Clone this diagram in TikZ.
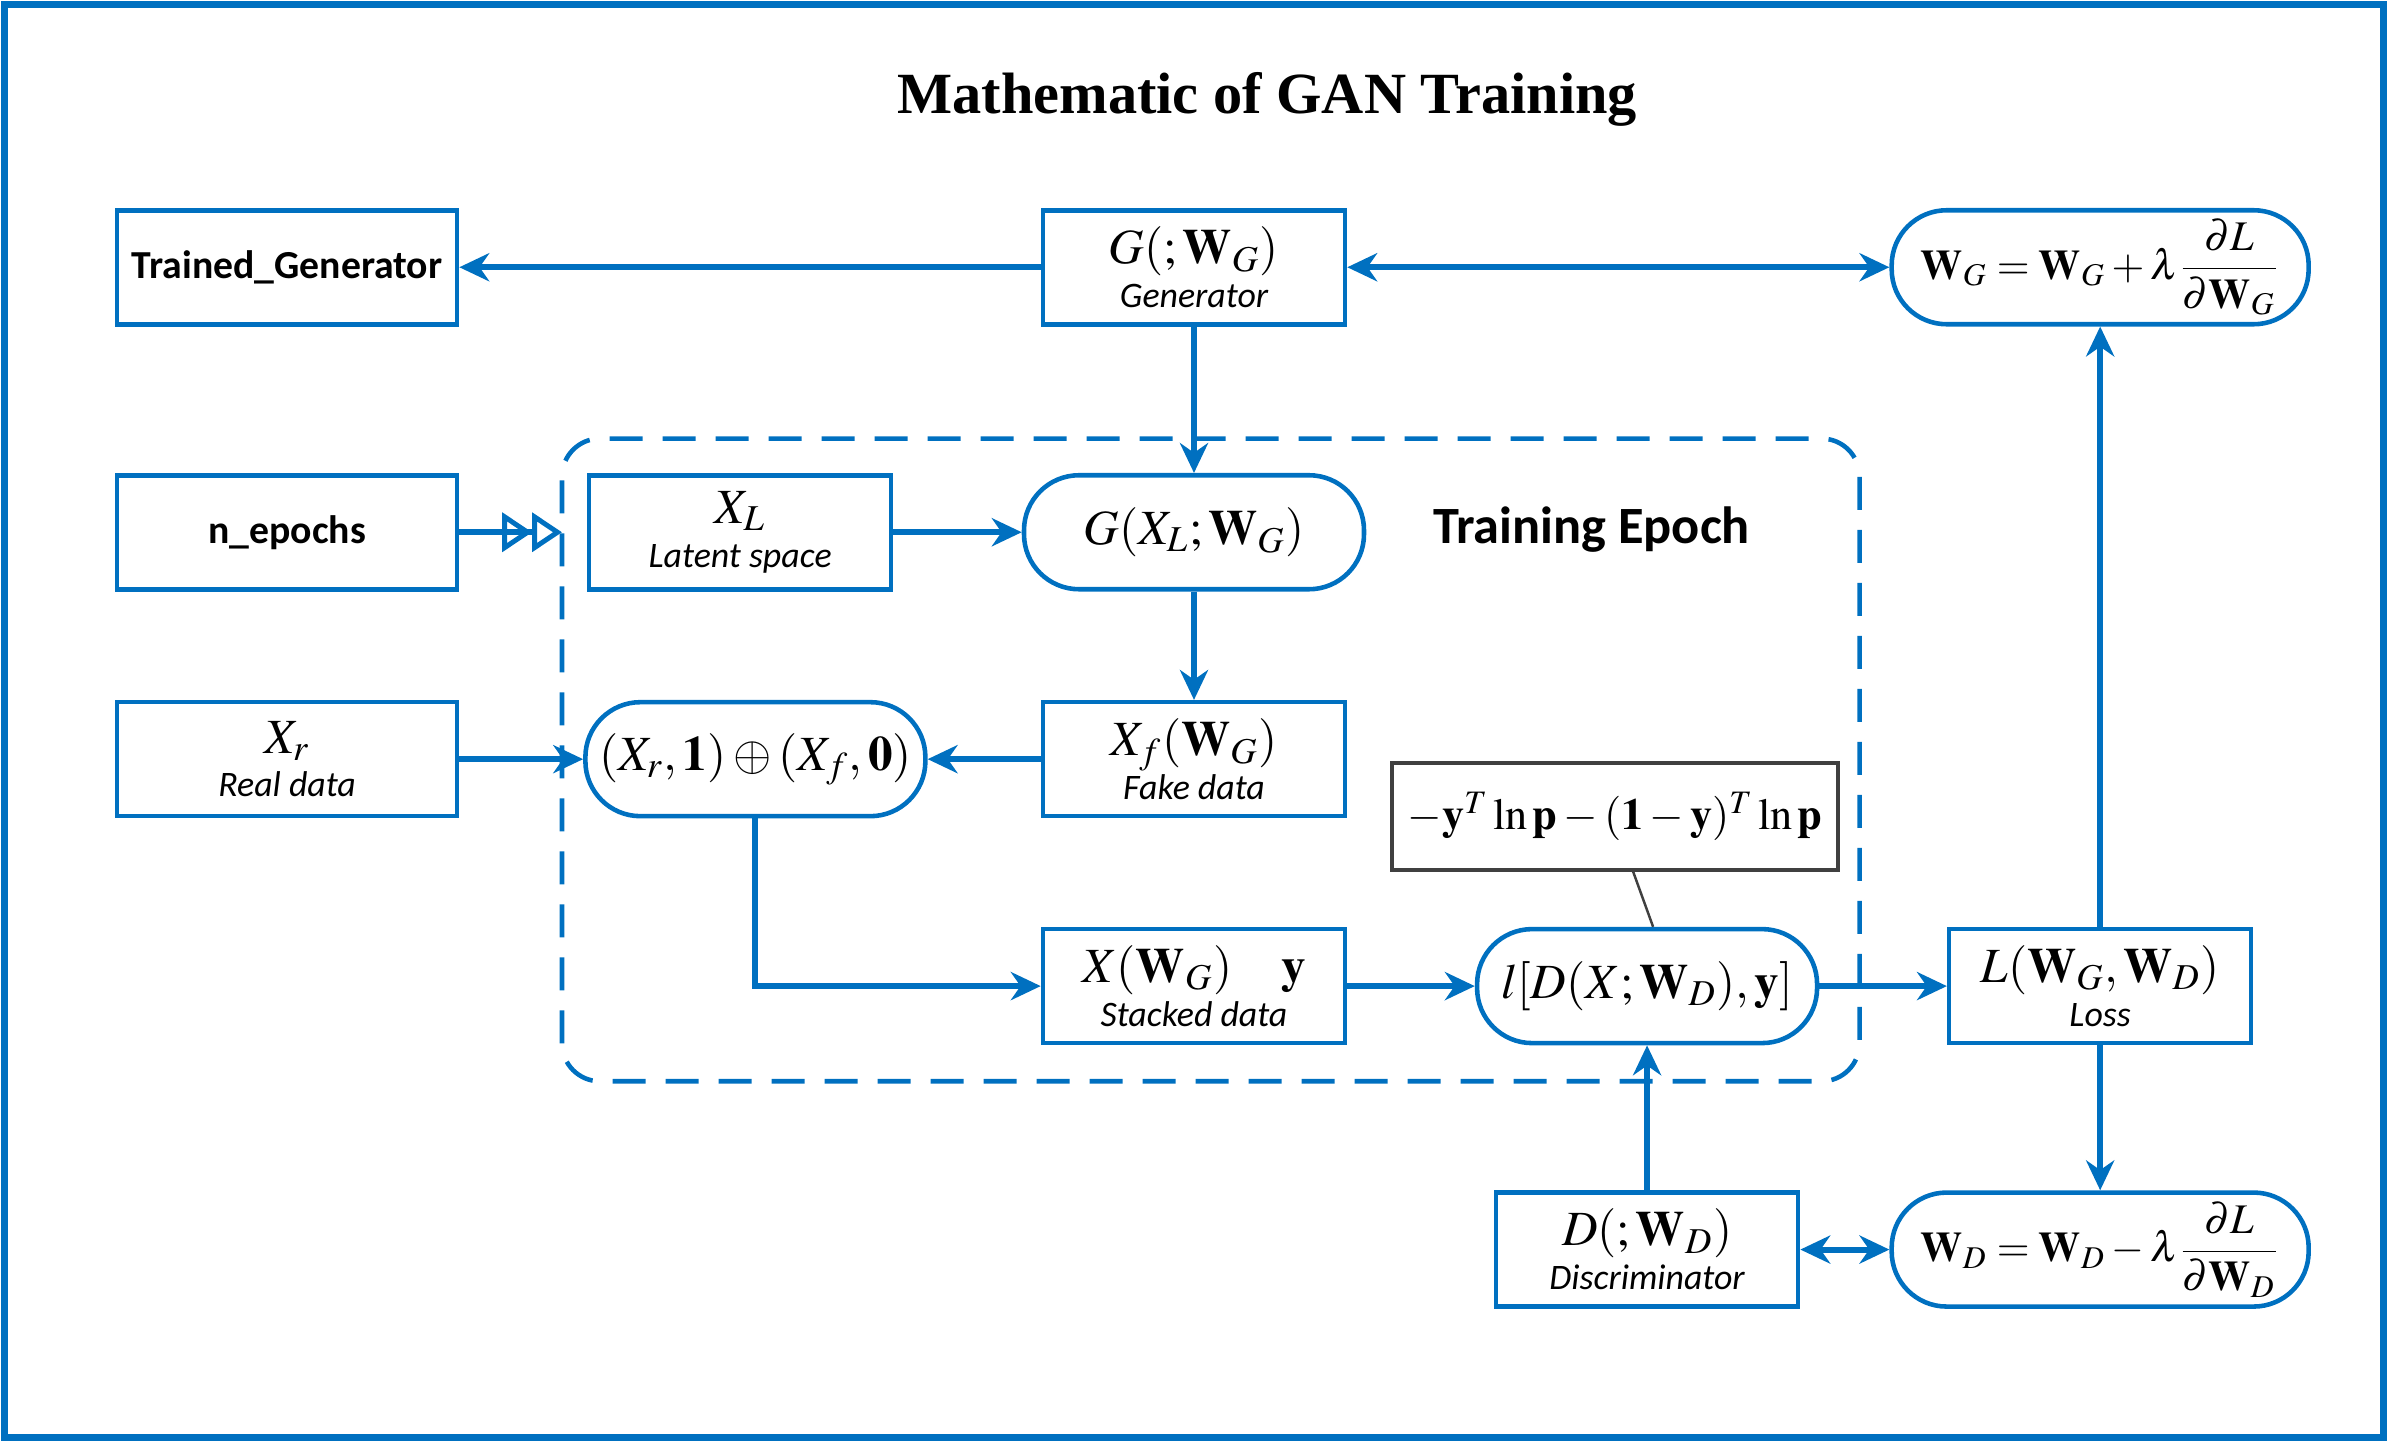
\documentclass[tikz,border=0pt]{standalone}
\usepackage{mathptmx}
\usepackage{fontspec}
\setmainfont{Liberation Serif}
\newfontfamily\calib{Carlito}
\usetikzlibrary{arrows.meta}

\definecolor{gblue}{RGB}{0,112,192}
\definecolor{lossgray}{RGB}{64,64,64}
\newcommand{\Wv}{\mathbf{W}}
\newcommand{\yv}{\mathbf{y}}
\newcommand{\pv}{\mathbf{p}}
\newcommand{\tagline}[1]{{\fontsize{10.2}{12}\calib\itshape #1}}

\tikzset{
  mbox/.style={draw=gblue, line width=1.3pt, minimum width=3.02cm, minimum height=1.14cm,
    align=center, inner sep=1pt, font=\fontsize{14}{12.5}\selectfont},
  wbox/.style={mbox, minimum width=3.40cm},
  tbox/.style={execute at begin node={\rule{0pt}{15pt}}},
  pill/.style={wbox, rounded corners=0.55cm},
  upill/.style={pill, minimum width=4.17cm, font=\fontsize{12}{14}\selectfont},
  flow/.style={draw=gblue, line width=1.7pt, -{Stealth[length=8.5pt,width=8pt]}},
  twoway/.style={draw=gblue, line width=1.7pt, {Stealth[length=8.5pt,width=8pt]}-{Stealth[length=8.5pt,width=8pt]}},
}

\begin{document}
\begin{tikzpicture}[x=1.523cm,y=1.523cm]
  \useasboundingbox (0,0) rectangle (15.68,9.47);
  \draw[gblue, line width=1.8pt] (0.03,0.03) rectangle (15.65,9.44);
  \node (title) at (8.32,8.82) {\fontsize{16.6}{20}\selectfont\bfseries Mathematic of GAN Training};
  % Training epoch frame
  \draw[gblue, line width=1.3pt, dash pattern=on 0.33cm off 0.2cm, rounded corners=0.38cm]
        (3.69,2.37) rectangle (12.21,6.59);
  \node (epoch) at (10.45,5.99) {\fontsize{14.9}{17}\calib\bfseries Training Epoch};
  \coordinate (epin) at (3.69,5.975);
  % Top row
  \node[wbox, font=\fontsize{11.3}{13}\calib\bfseries] (TG) at (1.885,7.715) {Trained\_Generator};
  \node[mbox,tbox] (Gen) at (7.84,7.715) {$G(;\Wv_G)$\\\tagline{Generator}};
  \node[upill] (WGup) at (13.79,7.715) {$\displaystyle \Wv_G=\Wv_G+\lambda\frac{\partial L}{\partial\Wv_G}$};
  % Inside the epoch
  \node[wbox, font=\fontsize{11.3}{13}\calib\bfseries] (nep) at (1.885,5.975) {n\_epochs};
  \node[mbox,tbox] (XL) at (4.86,5.975) {$X_L$\\\tagline{Latent space}};
  \node[pill]  (GXL)  at (7.84,5.975)  {$G(X_L;\Wv_G)$};
  \node[wbox,tbox] (Xr) at (1.885,4.485) {$X_r$\\\tagline{Real data}};
  \node[pill]  (comb) at (4.96,4.485)  {$(X_r,\mathbf{1})\oplus(X_f,\mathbf{0})$};
  \node[mbox,tbox] (Xf) at (7.84,4.485) {$X_f(\Wv_G)$\\\tagline{Fake data}};
  \node[draw=lossgray, line width=1pt, minimum width=4.46cm, minimum height=1.07cm,
        font=\fontsize{12.6}{15}\selectfont] (lossf) at (10.605,4.11)
        {$-\yv^T\ln\pv-(\mathbf{1}-\yv)^T\ln\pv$};
  \node[mbox,tbox] (Xs) at (7.84,2.995) {$X(\Wv_G)\quad\yv$\\\tagline{Stacked data}};
  \node[pill]  (lD)   at (10.815,2.995) {$l[D(X;\Wv_D),\yv]$};
  \node[mbox,tbox] (Ls) at (13.79,2.995) {$L(\Wv_G,\Wv_D)$\\\tagline{Loss}};
  % Bottom row
  \node[mbox,tbox] (Dd) at (10.815,1.265) {$D(;\Wv_D)$\\\tagline{Discriminator}};
  \node[upill] (WDup) at (13.79,1.265) {$\displaystyle \Wv_D=\Wv_D-\lambda\frac{\partial L}{\partial\Wv_D}$};
  % Connectors
  \draw[flow] (Gen) -- (TG);
  \draw[twoway] (Gen) -- (WGup);
  \draw[flow] (Gen) -- (GXL);
  \draw[draw=gblue, line width=1.7pt,
        -{Triangle[open,length=8.5pt,width=11pt,line width=1.4pt]Triangle[open,length=8.5pt,width=11pt,line width=1.4pt]}]
        (nep) -- (epin);
  \draw[flow] (XL) -- (GXL);
  \draw[flow] (GXL) -- (Xf);
  \draw[flow] (Xf) -- (comb);
  \draw[flow] (Xr) -- (comb);
  \draw[flow] (comb.south) |- (Xs.west);
  \draw[flow] (Xs) -- (lD);
  \draw[flow] (lD) -- (Ls);
  \draw[flow] (Ls) -- (WGup);
  \draw[flow] (Ls) -- (WDup);
  \draw[flow] (Dd) -- (lD);
  \draw[twoway] (Dd) -- (WDup);
  \draw[lossgray, line width=0.7pt] ([xshift=0.18cm]lossf.south) -- ([xshift=0.06cm]lD.north);
\end{tikzpicture}
\end{document}
